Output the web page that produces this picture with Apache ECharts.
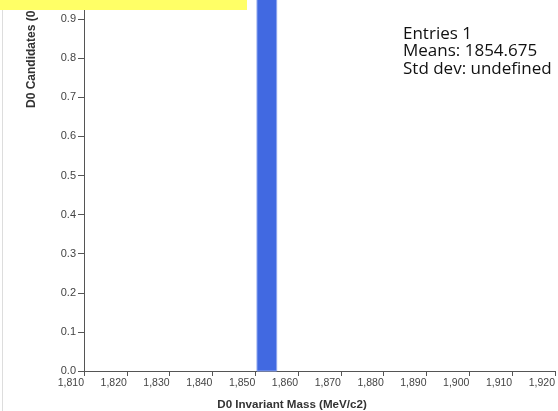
<!DOCTYPE html>
<html>
<head>
<meta charset="utf-8">
<script src="https://cdn.jsdelivr.net/npm/echarts@6/dist/echarts.min.js"></script>
<style>
html,body{margin:0;padding:0;background:#fff;}
#c{width:558px;height:411px;}
</style>
</head>
<body>
<div id="c"></div>
<script>
// Data
const binEdges = [[1850.4, 1855.0]];
const binCounts = [1];
const xTicks = [1810, 1820, 1830, 1840, 1850, 1860, 1870, 1880, 1890, 1900, 1910, 1920];
const yTicks = [0, 0.1, 0.2, 0.3, 0.4, 0.5, 0.6, 0.7, 0.8, 0.9, 1.0];
const statsLines = ['Entries 1', 'Means: 1854.675', 'Std dev: undefined'];
const xName = 'D0 Invariant Mass (MeV/c2)';
const yName = 'D0 Candidates (0.5 MeV/c2)';

const chart = echarts.init(document.getElementById('c'), null, {renderer: 'canvas'});
const seriesData = binEdges.map((e, i) => [e[0], e[1], binCounts[i]]);

const axisLineStyle = {color: '#555', width: 1};
chart.setOption({
  animation: false,
  grid: {left: 84, right: 3, top: -20, bottom: 40, containLabel: false, outerBoundsMode: 'none'},
  xAxis: {
    type: 'value',
    min: xTicks[0], max: xTicks[xTicks.length - 1], interval: 10,
    axisLine: {show: true, lineStyle: axisLineStyle},
    axisTick: {show: true, length: 5, lineStyle: axisLineStyle},
    splitLine: {show: false},
    axisLabel: {
      color: '#444', fontFamily: 'Arial, Liberation Sans', fontSize: 10.5, margin: 7,
      align: 'right', showMinLabel: true, showMaxLabel: true, hideOverlap: false,
      formatter: v => v.toLocaleString('en-US')
    }
  },
  yAxis: {
    type: 'value',
    min: yTicks[0], max: yTicks[yTicks.length - 1], interval: 0.1,
    axisLine: {show: true, lineStyle: axisLineStyle},
    axisTick: {show: true, length: 6, lineStyle: axisLineStyle},
    splitLine: {show: false},
    axisLabel: {
      color: '#444', fontFamily: 'Arial, Liberation Sans', fontSize: 11, margin: 8,
      formatter: v => v.toFixed(1)
    }
  },
  series: [{
    type: 'custom',
    data: seriesData,
    renderItem: function (params, api) {
      const p0 = api.coord([api.value(0), 0]);
      const p1 = api.coord([api.value(1), api.value(2)]);
      return {
        type: 'rect',
        shape: {x: p0[0], y: p1[1], width: p1[0] - p0[0], height: p0[1] - p1[1]},
        style: {fill: '#4169E1', stroke: '#8fa6ee', lineWidth: 1}
      };
    },
    z: 1
  }],
  graphic: [
    {type: 'rect', left: 0, top: 0, shape: {width: 247, height: 10}, style: {fill: '#FFFF66'}, z: 10},
    {type: 'line', shape: {x1: 2.5, y1: 0, x2: 2.5, y2: 411}, style: {stroke: '#dddddd', lineWidth: 1}},
    {type: 'text', x: 292, y: 405, style: {text: xName, font: 'bold 11.6px Arial, Liberation Sans', fill: '#333', align: 'center', verticalAlign: 'middle'}},
    {type: 'text', x: 32, y: 108, rotation: Math.PI / 2, style: {text: yName, font: 'bold 12px Arial, Liberation Sans', fill: '#333', align: 'left', verticalAlign: 'middle'}},
    {type: 'text', x: 403, y: 25, style: {text: statsLines.join('\n'), font: '17px "Open Sans"', lineHeight: 17.5, fill: '#111', align: 'left', verticalAlign: 'top'}}
  ]
});
</script>
</body>
</html>
